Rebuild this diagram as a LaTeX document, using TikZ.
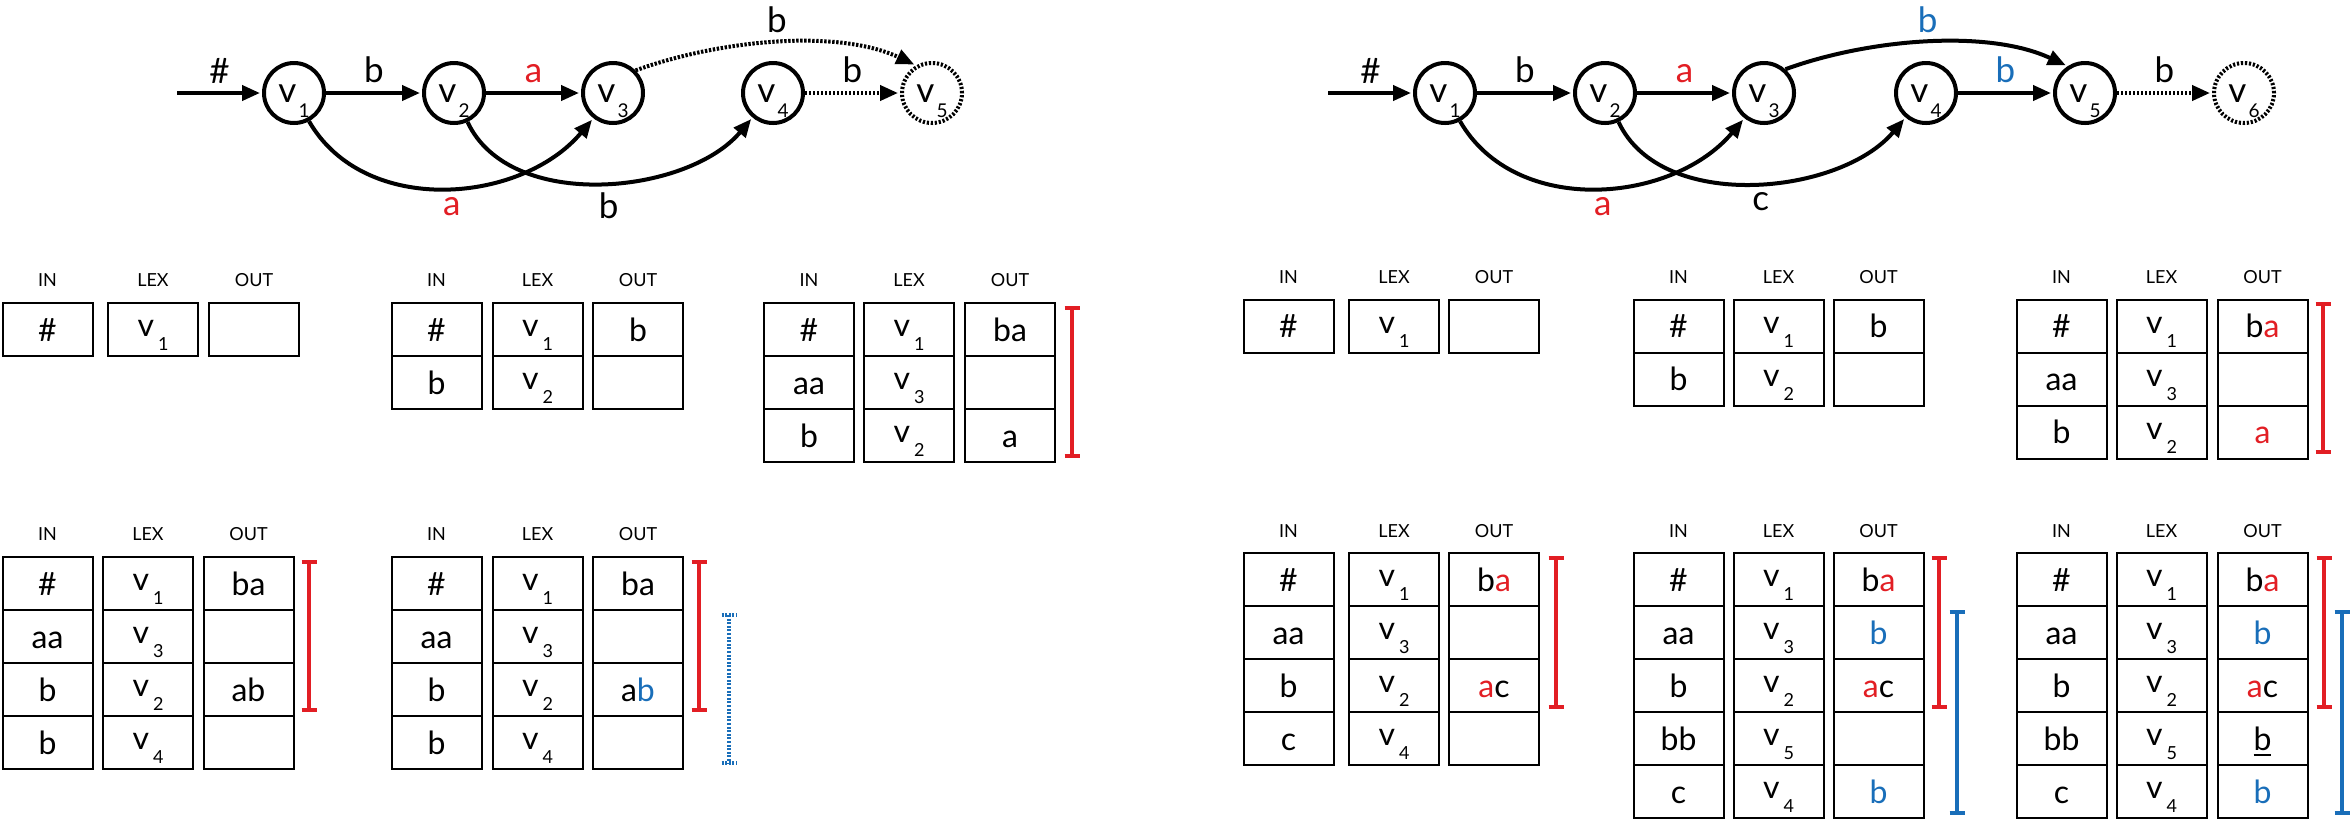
\documentclass[tikz,border=0pt]{standalone}
\usepackage{fontspec}
\setmainfont{Lato}
\usetikzlibrary{arrows.meta,shapes.geometric}
\definecolor{myred}{RGB}{226,30,36}
\definecolor{myblue}{RGB}{25,110,185}
\newcommand\gsub[1]{v\kern1pt\raisebox{-7.5pt}{\fontsize{9.5}{9.5}\selectfont #1}}
\newcommand\tsub[1]{v\kern2pt\raisebox{-7pt}{\fontsize{9}{9}\selectfont #1}}
\newcommand\cred[1]{\textcolor{myred}{#1}}
\newcommand\cblue[1]{\textcolor{myblue}{#1}}
\newcommand\ulb[1]{\vtop{\hbox{#1}\kern2pt\hrule height 1pt}}
\newcommand\trow[8]{%
  \node[cell] (#1i) at (#3,-#2) {#6};
  \node[cell,lexcell] (#1l) at (#4,-#2) {\tsub{#7}};
  \node[cell] (#1o) at (#5,-#2) {#8};}
\newcommand\thead[5]{%
  \node[hd] (#1i) at (#3,-#2) {IN};
  \node[hd] (#1l) at (#4,-#2) {LEX};
  \node[hd] (#1o) at (#5,-#2) {OUT};}
\newcommand\vbar[4]{%
  \draw[#1] (#2,-#3) -- (#2,-#4);
  \draw[#1] (#2-7.5,-#3) -- (#2+7.5,-#3);
  \draw[#1] (#2-7.5,-#4) -- (#2+7.5,-#4);}
\tikzset{
  gnode/.style={circle, draw, line width=2pt, minimum size=30pt, inner sep=0pt,
    font=\fontsize{17.5}{17.5}\selectfont, text height=9pt, text depth=0pt},
  gdot/.style={gnode, dash pattern=on 1.1pt off 0.9pt},
  edge/.style={line width=2pt, -{Triangle[length=9pt,width=7.5pt]}, shorten >=1pt},
  dotedge/.style={edge, dash pattern=on 1.2pt off 0.8pt},
  lab/.style={font=\fontsize{17.5}{17.5}\selectfont, inner sep=4pt},
  cell/.style={draw, line width=1pt, minimum width=45pt, minimum height=26.5pt,
    inner sep=0pt, font=\fontsize{16}{16}\selectfont, text height=11.5pt, text depth=0pt},
  lexcell/.style={text height=7pt},
  hd/.style={font=\fontsize{9}{9}\selectfont, inner sep=0pt},
  rbar/.style={myred, line width=1.75pt},
  bbar/.style={myblue, line width=1.75pt},
  bdot/.style={bbar, dash pattern=on 1pt off 0.8pt},
}
\begin{document}
\begin{tikzpicture}[x=0.5pt,y=0.5pt]
\useasboundingbox (0,0) rectangle (2350,-821);
% ---------- left graph ----------
\coordinate (lin) at (177,-93);
\node[gnode] (L1) at (294,-93) {\gsub1};
\node[gnode] (L2) at (454,-93) {\gsub2};
\node[gnode] (L3) at (613,-93) {\gsub3};
\node[gnode] (L4) at (773,-93) {\gsub4};
\node[gdot]  (L5) at (932,-93) {\gsub5};
\draw[edge] (lin) -- node[lab,above]{\#} (L1);
\draw[edge] (L1) -- node[lab,above]{b} (L2);
\draw[edge] (L2) -- node[lab,above]{\cred{a}} (L3);
\draw[dotedge] (L4) -- node[lab,above]{b} (L5);
\draw[dotedge] (L3.45) to[out=20,in=155,looseness=0.8] node[lab,above]{b} (L5.120);
\draw[edge] (L1.-62) to[out=-60,in=-130] node[lab,below,pos=0.52]{\cred{a}} (L3.-128);
\draw[edge] (L2.-65) to[out=-65,in=-130,looseness=0.9] node[lab,below,pos=0.52]{b} (L4.-130);
% ---------- right graph ----------
\coordinate (rin) at (1328,-93);
\node[gnode] (R1) at (1445,-93) {\gsub1};
\node[gnode] (R2) at (1605,-93) {\gsub2};
\node[gnode] (R3) at (1764,-93) {\gsub3};
\node[gnode] (R4) at (1926,-93) {\gsub4};
\node[gnode] (R5) at (2085,-93) {\gsub5};
\node[gdot]  (R6) at (2244,-93) {\gsub6};
\draw[edge] (rin) -- node[lab,above]{\#} (R1);
\draw[edge] (R1) -- node[lab,above]{b} (R2);
\draw[edge] (R2) -- node[lab,above]{\cred{a}} (R3);
\draw[edge] (R4) -- node[lab,above]{\cblue{b}} (R5);
\draw[dotedge] (R5) -- node[lab,above]{b} (R6);
\draw[edge] (R3.48) to[out=20,in=155,looseness=0.8] node[lab,above]{\cblue{b}} (R5.123);
\draw[edge] (R1.-62) to[out=-60,in=-130] node[lab,below,pos=0.52]{\cred{a}} (R3.-128);
\draw[edge] (R2.-65) to[out=-65,in=-130,looseness=0.9] node[lab,below,pos=0.52]{c} (R4.-130);
% ---------- top-left tables ----------
\thead{ha}{280}{47.5}{153}{254}
\trow{a1}{329.5}{47.5}{153}{254}{\#}{1}{}
\thead{hb}{280}{436.5}{537.5}{638}
\trow{b1}{329.5}{436.5}{537.5}{638}{\#}{1}{b}
\trow{b2}{382.5}{436.5}{537.5}{638}{b}{2}{}
\thead{hc}{280}{809}{909}{1010}
\trow{c1}{329.5}{809}{909}{1010}{\#}{1}{ba}
\trow{c2}{382.5}{809}{909}{1010}{aa}{3}{}
\trow{c3}{435.5}{809}{909}{1010}{b}{2}{a}
\vbar{rbar}{1072}{308}{456}
% ---------- bottom-left tables ----------
\thead{hd}{534}{47.5}{148}{248.5}
\trow{d1}{583.5}{47.5}{148}{248.5}{\#}{1}{ba}
\trow{d2}{636.5}{47.5}{148}{248.5}{aa}{3}{}
\trow{d3}{689.5}{47.5}{148}{248.5}{b}{2}{ab}
\trow{d4}{742.5}{47.5}{148}{248.5}{b}{4}{}
\vbar{rbar}{309}{562}{710}
\thead{he}{534}{436.5}{537.5}{638}
\trow{e1}{583.5}{436.5}{537.5}{638}{\#}{1}{ba}
\trow{e2}{636.5}{436.5}{537.5}{638}{aa}{3}{}
\trow{e3}{689.5}{436.5}{537.5}{638}{b}{2}{a\cblue{b}}
\trow{e4}{742.5}{436.5}{537.5}{638}{b}{4}{}
\vbar{rbar}{699}{562}{710}
\vbar{bdot}{729}{615}{763}
% ---------- top-right tables ----------
\thead{hf}{277}{1288.5}{1394}{1494}
\trow{f1}{326}{1288.5}{1394}{1494}{\#}{1}{}
\thead{hg}{277}{1678.5}{1778.5}{1878.5}
\trow{g1}{326}{1678.5}{1778.5}{1878.5}{\#}{1}{b}
\trow{g2}{379}{1678.5}{1778.5}{1878.5}{b}{2}{}
\thead{hh}{277}{2061.5}{2161.5}{2262.5}
\trow{h1}{326}{2061.5}{2161.5}{2262.5}{\#}{1}{b\cred{a}}
\trow{h2}{379}{2061.5}{2161.5}{2262.5}{aa}{3}{}
\trow{h3}{432}{2061.5}{2161.5}{2262.5}{b}{2}{\cred{a}}
\vbar{rbar}{2323}{304}{452}
% ---------- bottom-right tables ----------
\thead{hi}{531}{1288.5}{1394}{1494}
\trow{i1}{579.5}{1288.5}{1394}{1494}{\#}{1}{b\cred{a}}
\trow{i2}{632.5}{1288.5}{1394}{1494}{aa}{3}{}
\trow{i3}{685.5}{1288.5}{1394}{1494}{b}{2}{\cred{a}c}
\trow{i4}{738.5}{1288.5}{1394}{1494}{c}{4}{}
\vbar{rbar}{1556}{558}{707}
\thead{hj}{531}{1678.5}{1778.5}{1878.5}
\trow{j1}{579.5}{1678.5}{1778.5}{1878.5}{\#}{1}{b\cred{a}}
\trow{j2}{632.5}{1678.5}{1778.5}{1878.5}{aa}{3}{\cblue{b}}
\trow{j3}{685.5}{1678.5}{1778.5}{1878.5}{b}{2}{\cred{a}c}
\trow{j4}{738.5}{1678.5}{1778.5}{1878.5}{bb}{5}{}
\trow{j5}{791.5}{1678.5}{1778.5}{1878.5}{c}{4}{\cblue{b}}
\vbar{rbar}{1939}{558}{707}
\vbar{bbar}{1957}{612}{813}
\thead{hk}{531}{2061.5}{2161.5}{2262.5}
\trow{k1}{579.5}{2061.5}{2161.5}{2262.5}{\#}{1}{b\cred{a}}
\trow{k2}{632.5}{2061.5}{2161.5}{2262.5}{aa}{3}{\cblue{b}}
\trow{k3}{685.5}{2061.5}{2161.5}{2262.5}{b}{2}{\cred{a}c}
\trow{k4}{738.5}{2061.5}{2161.5}{2262.5}{bb}{5}{\ulb{b}}
\trow{k5}{791.5}{2061.5}{2161.5}{2262.5}{c}{4}{\cblue{b}}
\vbar{rbar}{2324}{558}{707}
\vbar{bbar}{2342}{612}{813}
\end{tikzpicture}
\end{document}
